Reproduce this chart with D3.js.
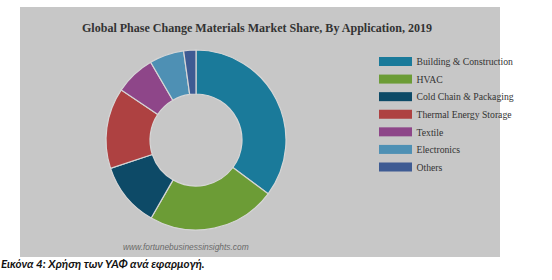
<!DOCTYPE html>
<html><head><meta charset="utf-8">
<script src="https://cdn.jsdelivr.net/npm/d3@7"></script>
<style>html,body{margin:0;padding:0;background:#fff;}svg{display:block;}</style>
</head><body>
<script>
const categories = ["Building & Construction","HVAC","Cold Chain & Packaging","Thermal Energy Storage","Textile","Electronics","Others"];
const shares = [35.2, 23.1, 11.6, 14.5, 7.2, 6.2, 2.2];
const colors = ["#1a7a9a","#6c9c36","#0d4a67","#ae4141","#8e4689","#4e90b4","#3e5b93"];
const title = "Global Phase Change Materials Market Share, By Application, 2019";
const source = "www.fortunebusinessinsights.com";
const caption = "Εικόνα 4: Χρήση των ΥΑΦ ανά εφαρμογή.";

const W = 552, H = 280;
const svg = d3.select("body").append("svg").attr("width", W).attr("height", H);
svg.append("rect").attr("x", 20).attr("y", 7).attr("width", 480).attr("height", 250).attr("fill", "#c7c7c7");

svg.append("text").attr("x", 257).attr("y", 31.5).attr("text-anchor", "middle")
  .attr("font-family", "Liberation Serif").attr("font-weight", "bold").attr("font-size", 12.6)
  .attr("textLength", 350).attr("lengthAdjust", "spacingAndGlyphs")
  .attr("fill", "#333").text(title);

const pie = d3.pie().sort(null).value(d => d);
const arc = d3.arc().innerRadius(46).outerRadius(90);
const g = svg.append("g").attr("transform", "translate(196,140)");
g.selectAll("path").data(pie(shares)).join("path")
  .attr("d", arc).attr("fill", (d, i) => colors[i])
  .attr("stroke", "#d6d6d6").attr("stroke-width", 1.2);

const y = d3.scalePoint().domain(categories).range([61.5, 167]);
const lg = svg.append("g");
categories.forEach((c, i) => {
  lg.append("rect").attr("x", 379).attr("y", y(c) - 4.5).attr("width", 33).attr("height", 9).attr("fill", colors[i]);
  lg.append("text").attr("x", 416.5).attr("y", y(c) + 3.7)
    .attr("font-family", "Liberation Serif").attr("font-size", 9.7).attr("fill", "#333").text(c);
});

svg.append("text").attr("x", 123).attr("y", 250)
  .attr("font-family", "Liberation Sans").attr("font-style", "italic").attr("font-size", 8.4)
  .attr("fill", "#6a6a6a").text(source);

svg.append("text").attr("x", 1).attr("y", 268)
  .attr("font-family", "Lato").attr("font-style", "italic").attr("font-weight", "bold").attr("font-size", 11.6)
  .attr("fill", "#111").text(caption);
</script>
</body></html>
